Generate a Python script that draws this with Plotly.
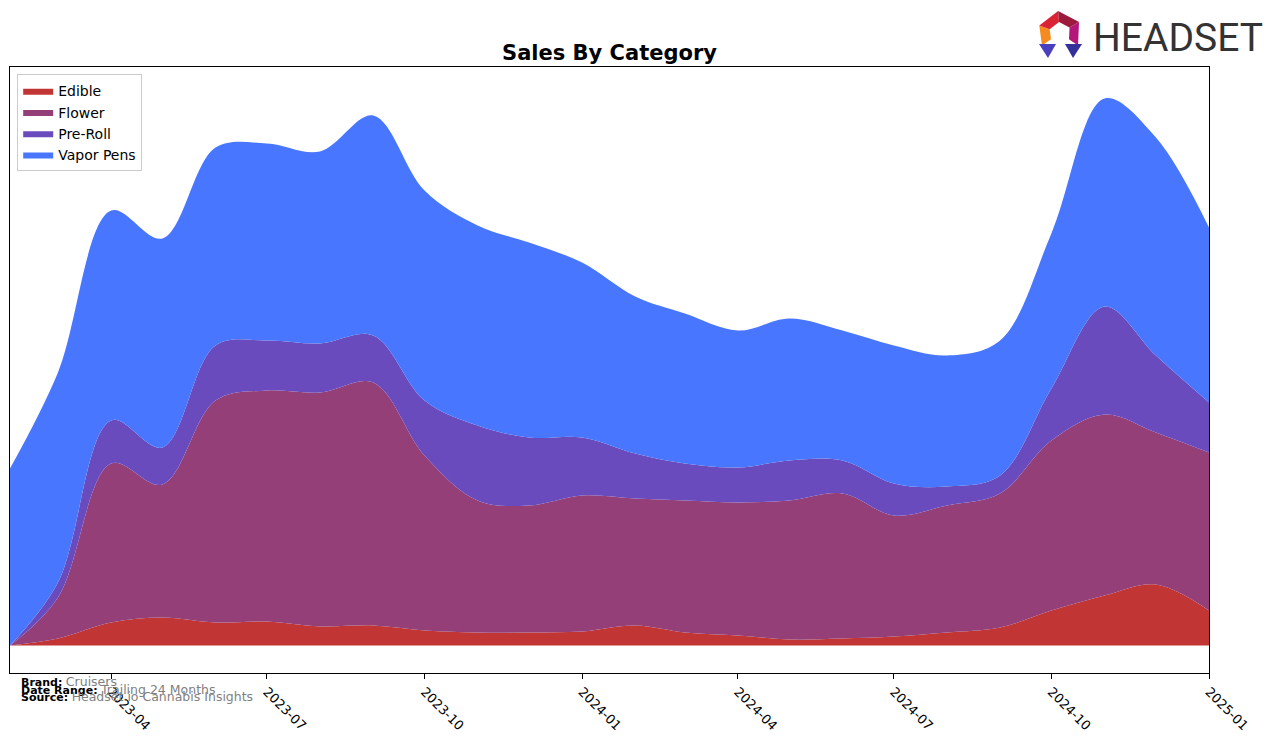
import math
import plotly.graph_objects as go

# monthly data, Feb 2023 .. Jan 2025
months = [
    "2023-02-01", "2023-03-01", "2023-04-01", "2023-05-01", "2023-06-01", "2023-07-01",
    "2023-08-01", "2023-09-01", "2023-10-01", "2023-11-01", "2023-12-01", "2024-01-01",
    "2024-02-01", "2024-03-01", "2024-04-01", "2024-05-01", "2024-06-01", "2024-07-01",
    "2024-08-01", "2024-09-01", "2024-10-01", "2024-11-01", "2024-12-01", "2025-01-01",
]
edible = [0, 7, 23, 28, 23, 24, 19, 20, 15, 13, 13, 14, 20, 13, 10, 6, 7, 9, 13, 18, 35, 50, 61, 35]
flower = [0, 41, 159, 133, 222, 231, 234, 243, 175, 132, 127, 136, 127, 132, 133, 139, 145, 121, 127, 134, 170, 181, 152, 158]
pre_roll = [0, 15, 43, 37, 55, 50, 49, 47, 55, 75, 68, 58, 45, 37, 35, 40, 33, 32, 19, 18, 52, 108, 77, 50]
vapor_pens = [177, 210, 210, 209, 198, 197, 192, 220, 210, 200, 195, 175, 157, 150, 137, 142, 130, 138, 131, 135, 155, 208, 218, 175]

tick_vals = ["2023-04-01", "2023-07-01", "2023-10-01", "2024-01-01",
             "2024-04-01", "2024-07-01", "2024-10-01", "2025-01-01"]
tick_text = ["2023-04", "2023-07", "2023-10", "2024-01",
             "2024-04", "2024-07", "2024-10", "2025-01"]

COLORS = {
    "Edible": "#C23535",
    "Flower": "#943F78",
    "Pre-Roll": "#6A4BBE",
    "Vapor Pens": "#4876FF",
}

# the page body adds an 8px margin, so the figure is shifted by that much
W, H = 1276, 743
OFF = 8
PL, PR, PT, PB = 10, 1209, 67, 673   # plot area in page pixels
L, T = PL - OFF, PT - OFF
R = W + OFF - PR
B = H + OFF - PB


def px2paper(x, y):
    return (x - PL) / (PR - PL), (PB - y) / (PB - PT)


fig = go.Figure()
for name, vals in [("Edible", edible), ("Flower", flower),
                   ("Pre-Roll", pre_roll), ("Vapor Pens", vapor_pens)]:
    fig.add_trace(go.Scatter(
        x=months, y=vals, name=name,
        mode="lines", stackgroup="one",
        line=dict(width=0, shape="spline", smoothing=1.0, color=COLORS[name]),
        fillcolor=COLORS[name],
    ))

# footer text
footer = [("Brand:", "Cruisers", 681), ("Date Range:", "Trailing 24 Months", 689),
          ("Source:", "Headset.io Cannabis Insights", 696)]
annotations = []
for lbl, val, py in footer:
    px_, py_ = px2paper(19, py)
    annotations.append(dict(
        text=f"<b>{lbl}</b> <span style='color:#808080;font-size:12.5px'>{val}</span>",
        x=px_, y=py_, xref="paper", yref="paper", xanchor="left", yanchor="middle",
        showarrow=False, font=dict(size=11, color="black", family="DejaVu Sans"),
    ))

# logo text
lx, ly = px2paper(1091, 38)
annotations.append(dict(
    text="HEADSET", x=lx, y=ly, xref="paper", yref="paper",
    xanchor="left", yanchor="middle", showarrow=False,
    font=dict(size=39, color="#333333", family="Roboto, sans-serif"),
))

# logo icon
shapes = []
cx, cy, ro, ri = 1060, 33, 22, 11
segs = [(215, 160, "#F58A1F"), (160, 95, "#DA2436"), (95, 30, "#9C1B3D"), (30, -35, "#B3177A")]
for a0, a1, col in segs:
    pts = []
    for a, r in [(a0, ro), (a1, ro), (a1, ri), (a0, ri)]:
        pts.append((cx + r * math.cos(math.radians(a)), cy - r * math.sin(math.radians(a))))
    path = "M " + " L ".join(f"{px2paper(x, y)[0]},{px2paper(x, y)[1]}" for x, y in pts) + " Z"
    shapes.append(dict(type="path", path=path, xref="paper", yref="paper",
                       fillcolor=col, line=dict(width=0)))
for tri, col in [([(1039, 44), (1056, 44), (1048, 58)], "#4A3FBF"),
                 ([(1065, 44), (1082, 44), (1073, 58)], "#34309A")]:
    path = "M " + " L ".join(f"{px2paper(x, y)[0]},{px2paper(x, y)[1]}" for x, y in tri) + " Z"
    shapes.append(dict(type="path", path=path, xref="paper", yref="paper",
                       fillcolor=col, line=dict(width=0)))

fig.update_layout(
    width=W, height=H,
    margin=dict(l=L, r=R, t=T, b=B),
    paper_bgcolor="white",
    plot_bgcolor="white",
    font=dict(family="DejaVu Sans", color="black"),
    title=dict(text="<b>Sales By Category</b>", x=((PL + PR) / 2 - OFF) / W, xanchor="center",
               y=1 - (53 - OFF) / H, yanchor="middle", font=dict(size=21, color="black")),
    showlegend=True,
    legend=dict(
        x=0.006, y=0.988, xanchor="left", yanchor="top",
        bgcolor="white", bordercolor="#CCCCCC", borderwidth=1,
        font=dict(size=14, color="black"), traceorder="normal",
    ),
    xaxis=dict(
        range=[months[0], months[-1]],
        tickmode="array", tickvals=tick_vals, ticktext=tick_text,
        tickangle=45, ticks="outside", ticklen=5, tickcolor="black",
        showgrid=False, zeroline=False,
        showline=True, mirror=True, linecolor="black", linewidth=1,
        tickfont=dict(size=13, color="black"),
    ),
    yaxis=dict(
        range=[-27.5, 578.5],
        showticklabels=False, ticks="", showgrid=False, zeroline=False,
        showline=True, mirror=True, linecolor="black", linewidth=1,
    ),
    annotations=annotations,
    shapes=shapes,
)

fig.write_html("out.html")
